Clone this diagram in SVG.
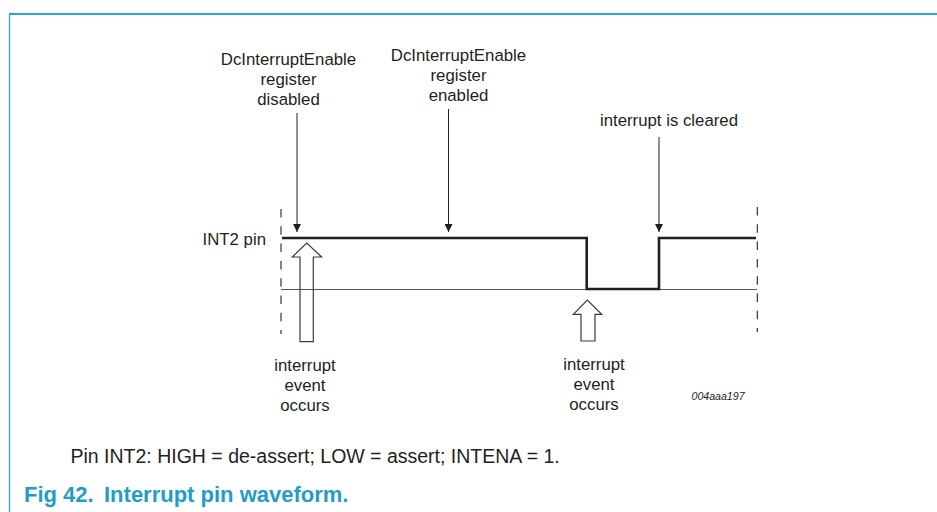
<svg xmlns="http://www.w3.org/2000/svg" width="937" height="512" viewBox="0 0 937 512">
<defs>
<style>
.t{font-family:"Liberation Sans",Arial,sans-serif;font-size:16.8px;fill:#231f20}
.c{text-anchor:middle}
.cap{font-family:"Liberation Sans",Arial,sans-serif;font-size:19.5px;fill:#231f20}
.fig{font-family:"Liberation Sans",Arial,sans-serif;font-size:22px;font-weight:bold;fill:#1f9dc8}
.frame{stroke:#29a7ca;fill:none}
.sig{stroke:#231f20;stroke-width:2.6;fill:none}
.base{stroke:#555;stroke-width:1.1;fill:none}
.dash{stroke:#231f20;stroke-width:1.1;stroke-dasharray:8.5 8.8;fill:none}
.ptr{stroke:#231f20;stroke-width:1;fill:none}
.blk{stroke:#3a3a3a;stroke-width:1.2;fill:none;stroke-linejoin:miter}
</style>
<marker id="ah" viewBox="0 0 10 10" refX="10" refY="5" markerWidth="8" markerHeight="8" markerUnits="userSpaceOnUse" orient="auto">
<path d="M0,0 L10,5 L0,10 z" fill="#231f20"/>
</marker>
</defs>
<rect width="937" height="512" fill="#fff"/>
<g id="frame">
<line class="frame" x1="9" y1="14" x2="937" y2="14" stroke-width="2.2"/>
<line class="frame" x1="9.5" y1="13" x2="9.5" y2="512" stroke-width="1.3"/>
</g>
<g id="axes">
<line class="dash" x1="281" y1="209" x2="281" y2="334"/>
<line class="dash" x1="757.3" y1="207" x2="757.3" y2="332"/>
<line class="base" x1="281" y1="289.5" x2="757" y2="289.5"/>
</g>
<g id="waveform">
<polyline class="sig" points="282,238 586.7,238 586.7,289 659,289 659,238 756,238"/>
</g>
<g id="connectors">
<line class="ptr" x1="297" y1="113" x2="297" y2="232" marker-end="url(#ah)"/>
<line class="ptr" x1="448.5" y1="109" x2="448.5" y2="232" marker-end="url(#ah)"/>
<line class="ptr" x1="659" y1="137" x2="659" y2="232" marker-end="url(#ah)"/>
<path id="evt1" class="blk" d="M300,341.7 L300,257 L292.3,257 L306.7,243 L321.7,257 L313.3,257 L313.3,341.7 Z"/>
<path id="evt2" class="blk" d="M581,341 L581,314.3 L573.3,314.3 L587.3,300 L601.7,314.3 L595,314.3 L595,341 Z"/>
</g>
<g id="label-disabled">
<text class="t c" x="288.5" y="64.5">DcInterruptEnable</text>
<text class="t c" x="288.5" y="84.5">register</text>
<text class="t c" x="288.5" y="104.5">disabled</text>
</g>
<g id="label-enabled">
<text class="t c" x="458.5" y="60.7">DcInterruptEnable</text>
<text class="t c" x="458.5" y="80.7">register</text>
<text class="t c" x="458.5" y="100.7">enabled</text>
</g>
<g id="label-cleared">
<text class="t c" x="669" y="126">interrupt is cleared</text>
</g>
<g id="label-int2">
<text class="t" x="266" y="244.5" text-anchor="end">INT2 pin</text>
</g>
<g id="label-event1">
<text class="t c" x="305" y="370.7">interrupt</text>
<text class="t c" x="305" y="391">event</text>
<text class="t c" x="305" y="411.3">occurs</text>
</g>
<g id="label-event2">
<text class="t c" x="594" y="369.5">interrupt</text>
<text class="t c" x="594" y="389.8">event</text>
<text class="t c" x="594" y="410">occurs</text>
</g>
<text x="691.5" y="399.5" style="font-family:'Liberation Sans',Arial,sans-serif;font-size:10.6px;font-style:italic;fill:#231f20">004aaa197</text>
<text class="cap" x="70.5" y="463">Pin INT2: HIGH = de-assert; LOW = assert; INTENA = 1.</text>
<g id="title">
<text class="fig" x="24" y="502">Fig 42.</text>
<text class="fig" x="104" y="502">Interrupt pin waveform.</text>
</g>
</svg>
